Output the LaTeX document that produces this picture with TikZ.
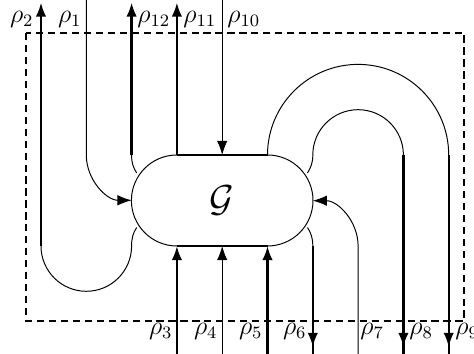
\documentclass[tikz,border=0pt]{standalone}
\usetikzlibrary{arrows.meta}
\begin{document}
\begin{tikzpicture}[x=0.46pt,y=-0.46pt,
  thinline/.style={line width=0.45pt},
  thickline/.style={line width=1.1pt},
  tip/.style={-{Latex[length=6.5pt,width=4.8pt]}},
  frame/.style={line width=0.9pt,dash pattern=on 3.3pt off 2.2pt},
  lab/.style={inner sep=0pt,font=\large}]
\useasboundingbox (0,0) rectangle (474,354);
% frame
\draw[frame] (26,33) rectangle (464,321);
% stadium
\coordinate (TL) at (176.9,155);
\coordinate (TR) at (267.5,155);
\coordinate (BL) at (176.9,246);
\coordinate (BR) at (267.5,246);
\draw[thickline] (TL) -- (TR);
\draw[thickline] (BL) -- (BR);
\draw[thinline] (TL) arc[start angle=270,end angle=90,radius=45.5];
\draw[thinline] (TR) arc[start angle=-90,end angle=90,radius=45.5];
\node (G) at (222.2,200.5) {\LARGE$\mathcal{G}$};
% rho2
\coordinate (a2) at (41,246);
\coordinate (a2b) at (131.6,246);
\draw[thickline,tip] (a2) -- (41,2.5);
\draw[thinline] (a2) arc[start angle=180,end angle=0,radius=45.3];
\draw[thinline] (a2b) .. controls (131.6,238) and (133,233) .. (136.7,227.5);
% rho1
\draw[thinline,tip] (86.3,0) -- (86.3,155) arc[start angle=180,end angle=90,radius=45.3];
% rho12
\coordinate (a12) at (131.6,155);
\draw[thickline,tip] (a12) -- (131.6,2.5);
\draw[thinline] (a12) .. controls (131.6,163) and (133,167) .. (136.7,173);
% rho11
\draw[thickline,tip] (TL) -- (176.9,2.5);
% rho10
\draw[thinline,tip] (222.2,0) -- (222.2,155);
% big arc -> rho9
\coordinate (a9) at (448.7,155);
\draw[thinline] (TR) arc[start angle=180,end angle=360,radius=90.6];
\draw[thickline] (a9) -- (448.7,354);
\draw[thickline,tip] (448.7,325) -- (448.7,347);
% inner arc -> rho8
\coordinate (a8s) at (312.8,155);
\coordinate (a8) at (403.4,155);
\draw[thinline] (a8s) arc[start angle=180,end angle=360,radius=45.3];
\draw[thinline] (a8s) .. controls (312.8,163) and (311,167) .. (307.5,173);
\draw[thickline] (a8) -- (403.4,354);
\draw[thickline,tip] (403.4,325) -- (403.4,347);
% rho7
\draw[thinline,tip] (358.1,354) -- (358.1,246) arc[start angle=0,end angle=-90,radius=45.3];
% rho6
\coordinate (a6) at (312.8,246);
\draw[thinline] (a6) .. controls (312.8,238) and (311,233) .. (307.5,227.5);
\draw[thickline] (a6) -- (312.8,354);
\draw[thickline,tip] (312.8,325) -- (312.8,347);
% rho5, rho4, rho3
\draw[thickline,tip] (267.5,354) -- (BR);
\draw[thinline,tip] (222.2,354) -- (222.2,246);
\draw[thickline,tip] (176.9,354) -- (BL);
% labels
\node[lab,anchor=base east] (l2) at (34,23) {$\rho_2$};
\node[lab,anchor=base east] (l1) at (82,23) {$\rho_1$};
\node[lab,anchor=base west] (l12) at (137,23) {$\rho_{12}$};
\node[lab,anchor=base west] (l11) at (183,23) {$\rho_{11}$};
\node[lab,anchor=base west] (l10) at (227,23) {$\rho_{10}$};
\node[lab,anchor=base east] (l3) at (173,335) {$\rho_3$};
\node[lab,anchor=base east] (l4) at (218,335) {$\rho_4$};
\node[lab,anchor=base east] (l5) at (263,335) {$\rho_5$};
\node[lab,anchor=base east] (l6) at (307,335) {$\rho_6$};
\node[lab,anchor=base west] (l7) at (360,335) {$\rho_7$};
\node[lab,anchor=base west] (l8) at (409,335) {$\rho_8$};
\node[lab,anchor=base west] (l9) at (455,335) {$\rho_9$};
\end{tikzpicture}
\end{document}
